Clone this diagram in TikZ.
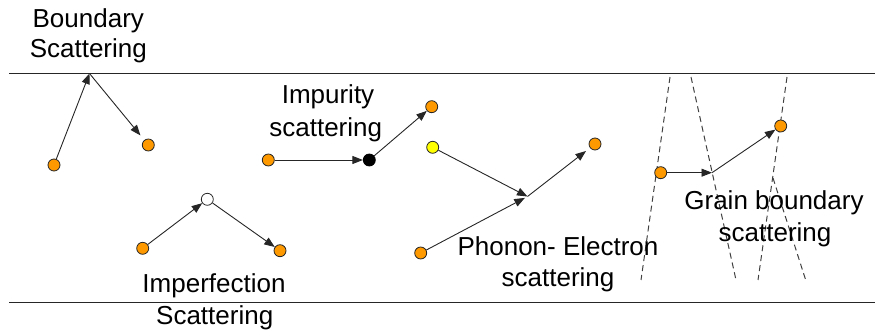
\documentclass[tikz,border=0pt]{standalone}
\usepackage{fontspec}
\setmainfont{Liberation Sans}
\usetikzlibrary{arrows.meta}
\definecolor{dotorange}{RGB}{255,153,0}
\definecolor{dotyellow}{RGB}{255,255,0}
\tikzset{
  particle/.style={circle, draw=black!85, line width=0.8pt, inner sep=0pt, minimum size=12pt},
  odot/.style={particle, fill=dotorange},
  ydot/.style={particle, fill=dotyellow},
  wdot/.style={particle, fill=white},
  bdot/.style={particle, fill=black, draw=black},
  path/.style={draw=black!85, line width=0.9pt},
  ray/.style={path, -{Triangle[length=10.5pt,width=8pt]}},
  wall/.style={draw=black!85, line width=0.9pt},
  grain/.style={draw=black!75, line width=1pt, dash pattern=on 6pt off 4pt},
  lbl/.style={anchor=base, inner sep=0pt, font=\fontsize{26}{30}\selectfont}
}
\begin{document}
\begin{tikzpicture}[x=1pt, y=-1pt]
\useasboundingbox (0,0) rectangle (875,336);

% sample walls
\coordinate (wtl) at (9,73);
\coordinate (wtr) at (875,73);
\coordinate (wbl) at (9,302);
\coordinate (wbr) at (875,302);
\draw[wall] (wtl) -- (wtr);
\draw[wall] (wbl) -- (wbr);

% grain boundaries
\coordinate (g1a) at (670,77);   \coordinate (g1b) at (641,280);
\coordinate (g2a) at (691,77);   \coordinate (g2b) at (736,280);
\coordinate (g3a) at (787,77);   \coordinate (g3b) at (758,280);
\coordinate (g4a) at (773,178);  \coordinate (g4b) at (806,281);
\draw[grain] (g1a) -- (g1b);
\draw[grain] (g2a) -- (g2b);
\draw[grain] (g3a) -- (g3b);
\draw[grain] (g4a) -- (g4b);

% boundary scattering
\node[odot] (b1) at (54,165) {};
\coordinate (bhit) at (89.5,73.5);
\node[odot] (b2) at (148.3,145) {};
\draw[ray] (b1) -- (bhit);
\draw[ray, shorten >=6pt] (bhit) -- (b2);
\node[lbl] (tb1) at (88.3,28) {Boundary};
\node[lbl] (tb2) at (88.3,57.5) {Scattering};

% imperfection scattering
\node[odot] (i1) at (142.7,248.3) {};
\node[wdot] (i2) at (207.3,199.3) {};
\node[odot] (i3) at (280,250.7) {};
\draw[ray] (i1) -- (i2);
\draw[ray] (i2) -- (i3);
\node[lbl] (ti1) at (214,293) {Imperfection};
\node[lbl] (ti2) at (214.7,325) {Scattering};

% impurity scattering
\node[odot] (m1) at (268.3,160) {};
\node[bdot] (m2) at (369.3,160) {};
\node[odot] (m3) at (431.7,106.7) {};
\draw[ray] (m1) -- (m2);
\draw[ray] (m2) -- (m3);
\node[lbl] (tm1) at (328,104) {Impurity};
\node[lbl] (tm2) at (325.7,136.5) {scattering};

% phonon-electron scattering
\node[ydot] (p1) at (432.7,147.3) {};
\node[odot] (p2) at (420.7,253) {};
\coordinate (pm) at (527.5,196.5);
\node[odot] (p3) at (595,144) {};
\draw[ray] (p1) -- (pm);
\draw[ray, shorten >=3pt] (p2) -- (pm);
\draw[ray, shorten >=5pt] (pm) -- (p3);
\node[lbl] (tp1) at (558,255.7) {Phonon- Electron};
\node[lbl] (tp2) at (558,286.7) {scattering};

% grain boundary scattering
\node[odot] (q1) at (660.7,172.7) {};
\coordinate (qm) at (712,172.7);
\node[odot] (q2) at (780.7,126) {};
\draw[ray] (q1) -- (qm);
\draw[ray] (qm) -- (q2);
\node[lbl] (tq1) at (774,210) {Grain boundary};
\node[lbl] (tq2) at (775,241.7) {scattering};
\end{tikzpicture}
\end{document}
